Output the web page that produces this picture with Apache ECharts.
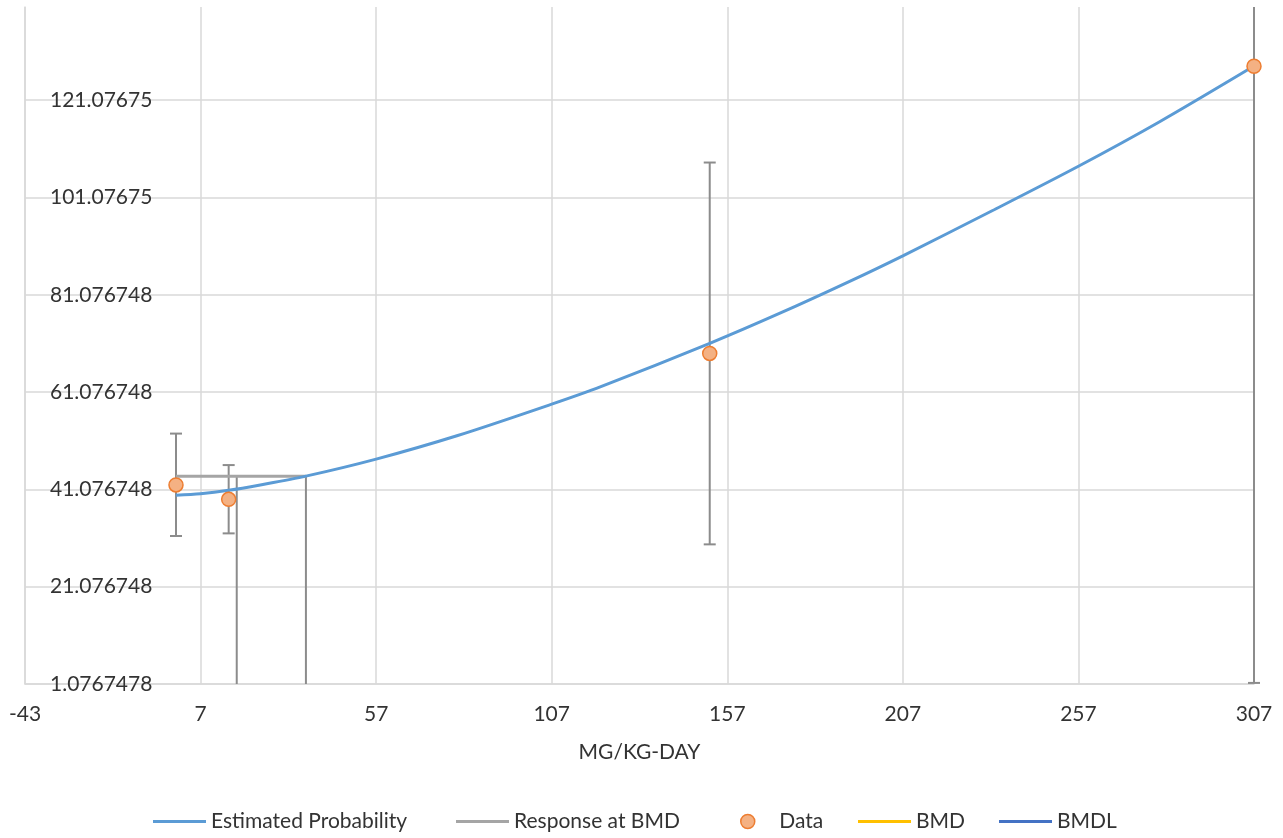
<!DOCTYPE html>
<html>
<head>
<meta charset="utf-8">
<title>Dose response</title>
<script src="https://cdn.jsdelivr.net/npm/echarts@6/dist/echarts.min.js"></script>
<style>
  html, body { margin: 0; padding: 0; background: #ffffff; }
  #chart { width: 1283px; height: 838px; }
</style>
</head>
<body>
<div id="chart"></div>
<script>
// Axis ranges and tick labels
const X_MIN = -43, X_MAX = 307, X_STEP = 50;
const Y_MIN = 1.0767478, Y_MAX = 140.24, Y_STEP = 20;
const xTickLabels = ['-43', '7', '57', '107', '157', '207', '257', '307'];
const yTickLabels = ['1.0767478', '21.076748', '41.076748', '61.076748', '81.076748', '101.07675', '121.07675'];

// Fitted model curve (dose, response)
const curveDose = [0, 7, 15, 24, 37, 57, 80, 107, 121, 152, 172, 192, 207, 232, 257, 280, 307];
const curveResp = [39.9, 40.2, 40.9, 42.0, 43.8, 47.3, 52.1, 58.6, 62.2, 71.1, 77.3, 83.9, 89.1, 98.2, 107.5, 116.6, 128.1];

// Observed group means with lower / upper confidence limits
const dataDose = [0, 15, 152, 307];
const dataMean = [42.0, 39.04, 69.03, 128.06];
const dataLow = [31.5, 32.04, 29.78, 1.3];
const dataHigh = [52.55, 46.08, 108.27, 255.0];

// Benchmark dose results
const bmdResponse = 43.8;
const bmdDose = 37.0;
const bmdlDose = 17.3;

// Legend entries and where each one starts
const legendNames = ['Estimated Probability', 'Response at BMD', 'Data', 'BMD', 'BMDL'];
const legendLeft = [153, 456, 740, 858, 999];

// Axes start at 0 internally so the ticks fall on min + k * interval
const sx = v => v - X_MIN;
const sy = v => v - Y_MIN;

const FONT = 'Lato';
const TEXT = '#333333';
const GRID = '#d9d9d9';
const BAR = '#8c8c8c';

function errorBarItem(params, api) {
  const x = api.value(0);
  const pLo = api.coord([x, api.value(1)]);
  const pHi = api.coord([x, api.value(2)]);
  const cs = params.coordSys;
  const top = Math.max(pHi[1], cs.y);
  const bottom = Math.min(pLo[1], cs.y + cs.height);
  const style = { stroke: BAR, lineWidth: 2 };
  const half = 6;
  const children = [
    { type: 'line', shape: { x1: pLo[0], y1: top, x2: pLo[0], y2: bottom }, style }
  ];
  if (pHi[1] >= cs.y) {
    children.push({ type: 'line', shape: { x1: pHi[0] - half, y1: pHi[1], x2: pHi[0] + half, y2: pHi[1] }, style });
  }
  if (pLo[1] <= cs.y + cs.height + 0.5) {
    const yb = Math.min(pLo[1], cs.y + cs.height - 1);
    children.push({ type: 'line', shape: { x1: pLo[0] - half, y1: yb, x2: pLo[0] + half, y2: yb }, style });
  }
  return { type: 'group', children };
}

function dropLineItem(params, api) {
  const p = api.coord([api.value(0), api.value(1)]);
  const cs = params.coordSys;
  return {
    type: 'line',
    shape: { x1: p[0], y1: p[1], x2: p[0], y2: cs.y + cs.height },
    style: { stroke: BAR, lineWidth: 2 }
  };
}

const LINE_ICON = 'path://M0 0H53V3H0Z';
const legendIcons = {
  'Estimated Probability': { icon: LINE_ICON, itemStyle: { color: '#5B9BD5' } },
  'Response at BMD': { icon: LINE_ICON, itemStyle: { color: '#A5A5A5' } },
  'Data': { icon: 'circle', itemStyle: { color: '#F4B183', borderColor: '#ED7D31', borderWidth: 1.5 } },
  'BMD': { icon: LINE_ICON, itemStyle: { color: '#FFC000' } },
  'BMDL': { icon: LINE_ICON, itemStyle: { color: '#4472C4' } }
};

const legends = legendNames.map((name, i) => ({
  left: legendLeft[i],
  top: 811,
  padding: 0,
  itemWidth: 53,
  itemHeight: 14,
  selectedMode: false,
  textStyle: { fontFamily: FONT, fontSize: 21, color: TEXT },
  data: [Object.assign({ name }, legendIcons[name])]
}));

const option = {
  animation: false,
  backgroundColor: '#ffffff',
  textStyle: { fontFamily: FONT, color: TEXT },
  grid: { left: 25, right: 29, top: 7, bottom: 154, containLabel: false },
  xAxis: {
    type: 'value',
    min: 0,
    max: sx(X_MAX),
    interval: X_STEP,
    name: 'MG/KG-DAY',
    nameLocation: 'middle',
    nameGap: 58,
    nameTextStyle: { fontFamily: FONT, fontSize: 21, color: TEXT },
    axisLine: { show: true, lineStyle: { color: GRID, width: 1.5 } },
    axisTick: { show: false },
    axisLabel: {
      fontFamily: FONT, fontSize: 21, color: TEXT, margin: 20,
      formatter: v => {
        const i = Math.round(v / X_STEP);
        return Math.abs(v - i * X_STEP) < 1e-6 && xTickLabels[i] !== undefined ? xTickLabels[i] : '';
      }
    },
    splitLine: { show: true, lineStyle: { color: GRID, width: 1.5 } }
  },
  yAxis: {
    type: 'value',
    min: 0,
    max: sy(Y_MAX),
    interval: Y_STEP,
    axisLine: { show: true, lineStyle: { color: GRID, width: 1.5 } },
    axisTick: { show: false },
    axisLabel: {
      inside: true,
      margin: 25,
      showMaxLabel: false,
      fontFamily: FONT, fontSize: 21, color: TEXT,
      formatter: v => {
        const i = Math.round(v / Y_STEP);
        return Math.abs(v - i * Y_STEP) < 1e-6 && yTickLabels[i] !== undefined ? yTickLabels[i] : '';
      }
    },
    splitLine: { show: true, showMaxLine: false, lineStyle: { color: GRID, width: 1.5 } }
  },
  legend: legends,
  series: [
    {
      name: 'Error bars',
      type: 'custom',
      z: 1,
      renderItem: errorBarItem,
      data: dataDose.map((d, i) => [sx(d), sy(dataLow[i]), sy(dataHigh[i])]),
      encode: { x: 0, y: [1, 2] },
      silent: true
    },
    {
      name: 'BMD',
      type: 'custom',
      z: 1,
      itemStyle: { color: '#FFC000' },
      renderItem: dropLineItem,
      data: [[sx(bmdDose), sy(bmdResponse)]],
      silent: true
    },
    {
      name: 'BMDL',
      type: 'custom',
      z: 1,
      itemStyle: { color: '#4472C4' },
      renderItem: dropLineItem,
      data: [[sx(bmdlDose), sy(bmdResponse)]],
      silent: true
    },
    {
      name: 'Response at BMD',
      type: 'line',
      z: 2,
      symbol: 'none',
      color: '#A5A5A5',
      lineStyle: { color: '#A5A5A5', width: 3 },
      data: [[sx(dataDose[0]), sy(bmdResponse)], [sx(bmdDose), sy(bmdResponse)]]
    },
    {
      name: 'Estimated Probability',
      type: 'line',
      z: 3,
      smooth: 0.3,
      symbol: 'none',
      color: '#5B9BD5',
      lineStyle: { color: '#5B9BD5', width: 3 },
      data: curveDose.map((d, i) => [sx(d), sy(curveResp[i])])
    },
    {
      name: 'Data',
      type: 'scatter',
      z: 4,
      symbol: 'circle',
      symbolSize: 14,
      itemStyle: { color: '#F4B183', borderColor: '#ED7D31', borderWidth: 1.5, opacity: 1 },
      data: dataDose.map((d, i) => [sx(d), sy(dataMean[i])])
    }
  ]
};

const chart = echarts.init(document.getElementById('chart'), null, { renderer: 'canvas' });
chart.setOption(option);
</script>
</body>
</html>
